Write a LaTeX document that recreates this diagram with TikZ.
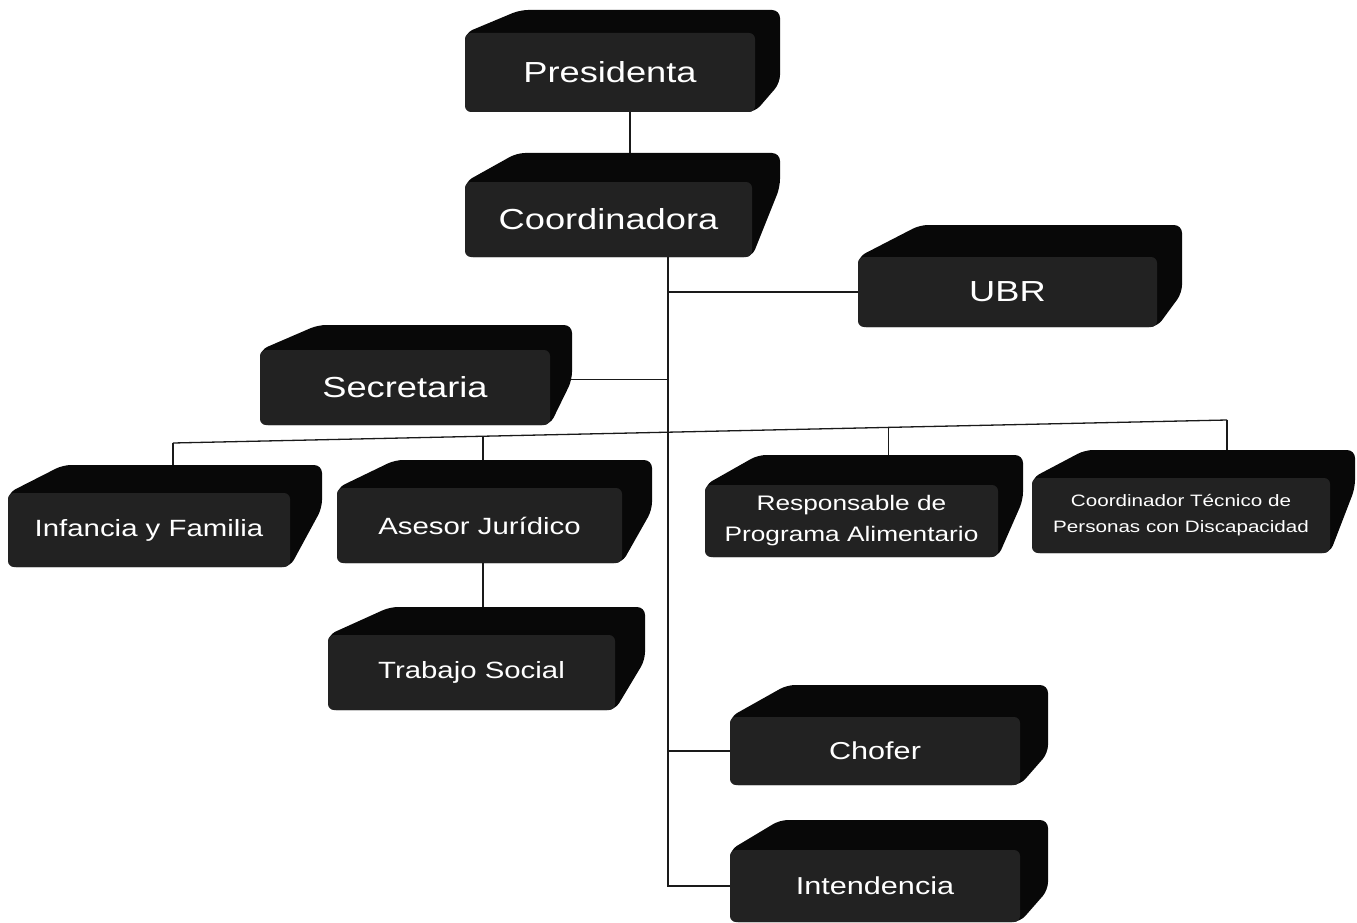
\documentclass[tikz,border=0pt]{standalone}
\usepackage{fontspec}
\setmainfont{Liberation Sans}[FakeStretch=1.25]
\usetikzlibrary{calc}
\pgfdeclarelayer{paper}
\pgfdeclarelayer{lines}
\pgfdeclarelayer{slab}
\pgfsetlayers{paper,lines,slab,main}
\definecolor{slabc}{HTML}{080808}
\definecolor{frontc}{HTML}{222222}
\definecolor{linec}{HTML}{1A1A1A}
\tikzset{
  face/.style={fill=frontc, text=white, inner sep=0pt, outer sep=0pt,
    rounded corners=6pt, align=center},
  conn/.style={draw=linec, line width=1.3pt},
  bigtext/.style={font=\fontsize{29}{34}\selectfont},
  midtext/.style={font=\fontsize{23.5}{28}\selectfont},
  lowtext/.style={font=\fontsize{24.5}{29}\selectfont},
  resptext/.style={font=\fontsize{21}{31}\selectfont},
  smalltext/.style={font=\fontsize{16.5}{26}\selectfont},
  slabfill/.style={fill=slabc, rounded corners=8pt}
}
% #1 node name, #2 top depth, #3 slant start, #4 right depth, #5 right vertical rise
\newcommand\slabfor[5]{%
  \begin{pgfonlayer}{slab}
    \fill[slabfill] (#1.south west) -- (#1.north west)
      -- ([shift={(#3pt,#2pt)}]#1.north west)
      -- ([shift={(#4pt,#2pt)}]#1.north east)
      -- ([shift={(#4pt,#5pt)}]#1.south east)
      -- (#1.south east) -- cycle;
  \end{pgfonlayer}}
\begin{document}
\begin{tikzpicture}[x=1pt,y=-1pt]
\useasboundingbox (0,0) rectangle (1357,923);
\begin{pgfonlayer}{paper}
  \fill[white] (0,0) rectangle (1357,923);
\end{pgfonlayer}

% front faces (named nodes)
\node[face, bigtext, minimum width=290pt, minimum height=79pt] (pres) at (610,72.5) {Presidenta};
\node[face, bigtext, minimum width=287pt, minimum height=75pt] (coord) at (608.5,219.5) {Coordinadora};
\node[face, bigtext, minimum width=299pt, minimum height=70pt] (ubr) at (1007.5,292) {UBR};
\node[face, bigtext, minimum width=290pt, minimum height=75pt] (sec) at (405,387.5) {Secretaria};
\node[face, midtext, minimum width=282pt, minimum height=74pt] (inf) at (149,530) {Infancia y Familia};
\node[face, midtext, minimum width=285pt, minimum height=75pt] (ases) at (479.5,525.5) {Asesor Jurídico};
\node[face, midtext, minimum width=287pt, minimum height=75pt] (trab) at (471.5,672.5) {Trabajo Social};
\node[face, resptext, minimum width=293pt, minimum height=72pt] (resp) at (851.5,521) {Responsable de\\Programa Alimentario};
\node[face, smalltext, minimum width=298pt, minimum height=75pt] (coordt) at (1181,515.5) {Coordinador Técnico de\\Personas con Discapacidad};
\node[face, lowtext, minimum width=290pt, minimum height=68pt] (chof) at (875,751) {Chofer};
\node[face, lowtext, minimum width=290pt, minimum height=72pt] (inte) at (875,886) {Intendencia};

% 3D slabs behind the faces
\slabfor{pres}{23}{55}{25}{29}
\slabfor{coord}{29}{52}{28}{70}
\slabfor{ubr}{32}{62}{25}{34}
\slabfor{sec}{25}{58}{22}{45}
\slabfor{inf}{28}{55}{32}{59}
\slabfor{ases}{28}{58}{30}{53}
\slabfor{trab}{28}{62}{30}{50}
\slabfor{resp}{30}{53}{25}{57}
\slabfor{coordt}{28}{53}{25}{65}
\slabfor{chof}{32}{57}{28}{32}
\slabfor{inte}{30}{50}{28}{32}

% connectors
\coordinate (px) at (630,0);
\coordinate (trunk) at (668,0);
\coordinate (busL) at (173,443);
\coordinate (busR) at (1227,420);
\coordinate (bA) at ($(busL)!0.294!(busR)$);
\coordinate (bR) at ($(busL)!0.679!(busR)$);
\begin{pgfonlayer}{lines}
  \draw[conn] (pres.center -| px) -- (coord.center -| px);
  \draw[conn] (coord.center -| trunk) -- (inte.center -| trunk) -- (inte.center);
  \draw[conn] (ubr.center -| trunk) -- (ubr.center);
  \draw[conn] ([yshift=8pt]sec.center) -- ([yshift=8pt]sec.center -| trunk);
  \draw[conn] (chof.center -| trunk) -- (chof.center);
  \draw[conn] (busL) -- (busR);
  \draw[conn] (busL) -- (busL |- inf.center);
  \draw[conn] (bA) -- (bA |- trab.center);
  \draw[conn] (bR) -- (bR |- resp.center);
  \draw[conn] (busR) -- (busR |- coordt.center);
\end{pgfonlayer}
\end{tikzpicture}
\end{document}
